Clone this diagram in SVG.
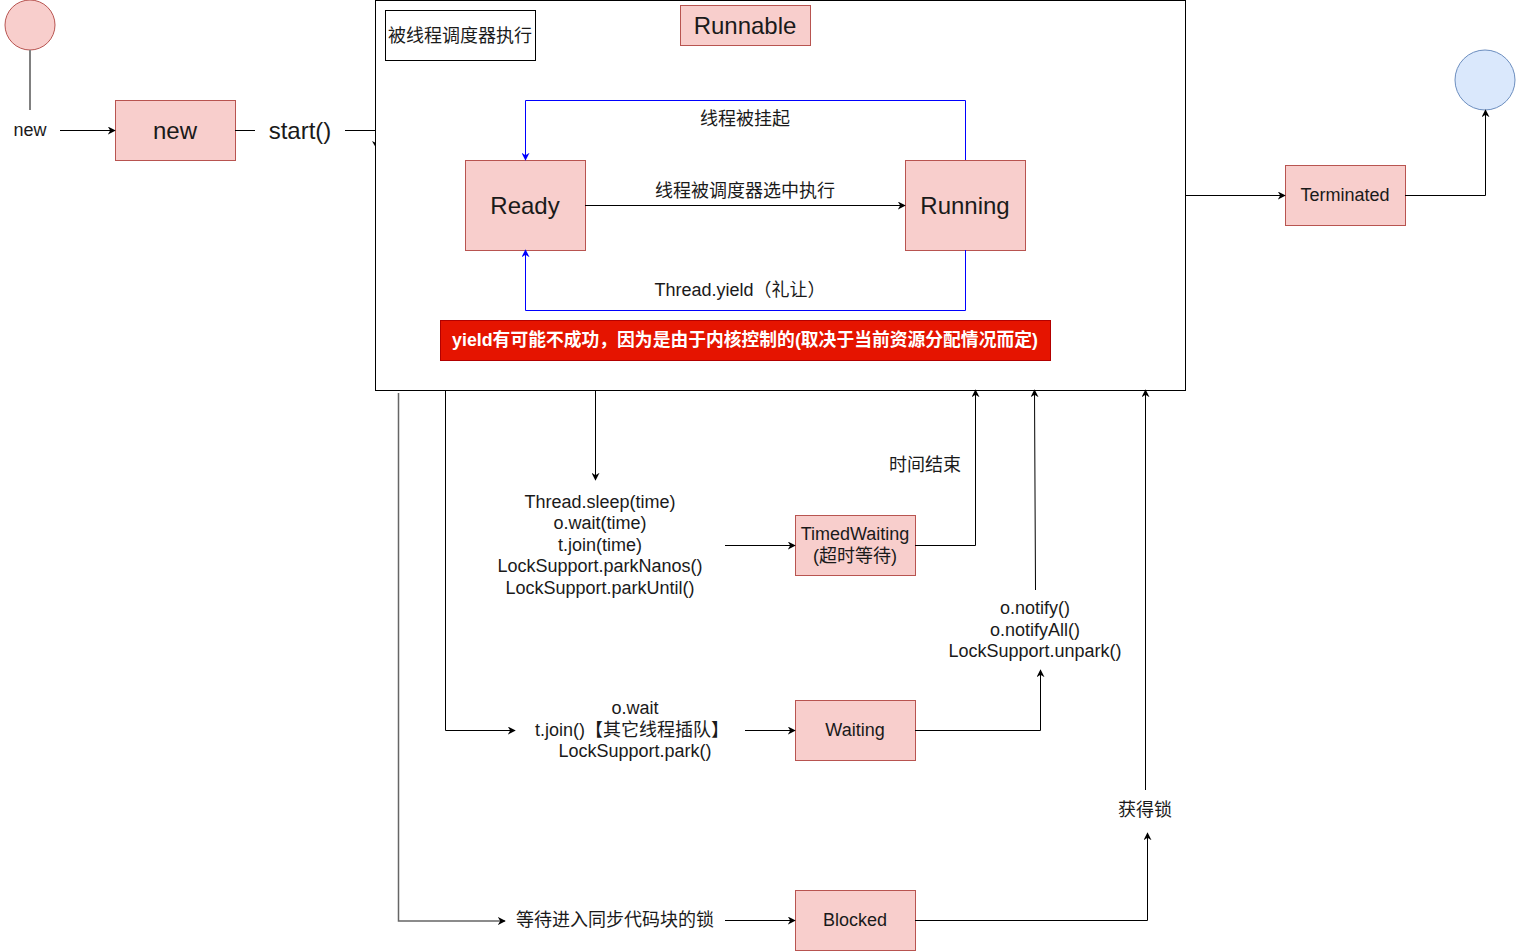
<svg xmlns="http://www.w3.org/2000/svg" width="1516" height="951" viewBox="0 0 1516 951">
<defs>
<marker id="a" viewBox="0 0 10 10" refX="9" refY="5" markerWidth="8" markerHeight="8" orient="auto" markerUnits="userSpaceOnUse"><path d="M0,0 L10,5 L0,10 L3,5 Z" fill="#000"/></marker>
<marker id="ab" viewBox="0 0 10 10" refX="9" refY="5" markerWidth="8" markerHeight="8" orient="auto" markerUnits="userSpaceOnUse"><path d="M0,0 L10,5 L0,10 L3,5 Z" fill="#0000ff"/></marker>
</defs>
<style>
text{font-family:"Liberation Sans","Noto Sans CJK SC",sans-serif;fill:#1a1a1a;text-anchor:middle;dominant-baseline:central;font-size:18px}
.st{fill:#f8cecc;stroke:#b85450;stroke-width:1}
.c{fill:none;stroke:#000;stroke-width:1}
.g{fill:none;stroke:#808080;stroke-width:2}
.b{fill:none;stroke:#0000ff;stroke-width:1}
.big{font-size:24px}
</style>
<rect width="1516" height="951" fill="#fff"/>
<g id="runnable-container">
<rect x="375.5" y="0.5" width="810" height="390" fill="#fff" stroke="#000"/>
</g>
<g id="start">
<circle cx="30" cy="25" r="25" class="st"/>
</g>
<g id="new">
<rect x="115.5" y="100.5" width="120" height="60" class="st"/>
<text x="175" y="130" class="big">new</text>
</g>
<g id="scheduler-note">
<rect x="385.5" y="10.5" width="150" height="50" fill="#fff" stroke="#000"/>
<text x="460" y="36">被线程调度器执行</text>
</g>
<g id="runnable-label">
<rect x="680.5" y="5.5" width="130" height="40" class="st"/>
<text x="745" y="25" class="big">Runnable</text>
</g>
<g id="ready">
<rect x="465.5" y="160.5" width="120" height="90" class="st"/>
<text x="525" y="205" class="big">Ready</text>
</g>
<g id="running">
<rect x="905.5" y="160.5" width="120" height="90" class="st"/>
<text x="965" y="205" class="big">Running</text>
</g>
<g id="yield-note">
<rect x="440.5" y="320.5" width="610" height="40" fill="#e51400" stroke="#b20000"/>
<text x="745" y="340" style="font-weight:bold;fill:#fff;font-size:17.8px">yield有可能不成功，因为是由于内核控制的(取决于当前资源分配情况而定)</text>
</g>
<g id="terminated">
<rect x="1285.5" y="165.5" width="120" height="60" class="st"/>
<text x="1345" y="195">Terminated</text>
</g>
<g id="end">
<circle cx="1485" cy="80" r="30" fill="#dae8fc" stroke="#6c8ebf"/>
</g>
<g id="timed-waiting">
<rect x="795.5" y="515.5" width="120" height="60" class="st"/>
<text x="855" y="534">TimedWaiting</text>
<text x="855" y="556">(超时等待)</text>
</g>
<g id="waiting">
<rect x="795.5" y="700.5" width="120" height="60" class="st"/>
<text x="855" y="730">Waiting</text>
</g>
<g id="blocked">
<rect x="795.5" y="890.5" width="120" height="60" class="st"/>
<text x="855" y="920">Blocked</text>
</g>
<g id="connectors">
<line x1="30" y1="50" x2="30" y2="110" class="g"/>
<text x="30" y="130">new</text>
<line x1="60" y1="130.5" x2="115" y2="130.5" class="c" marker-end="url(#a)"/>
<line x1="235" y1="130.5" x2="255" y2="130.5" class="c"/>
<text x="300" y="130" class="big">start()</text>
<line x1="345" y1="130.5" x2="375" y2="130.5" class="c"/>
<path d="M372,141 L376,143 L376,148 Z" fill="#000"/>
<path d="M965.5,160 V100.5 H525.5 V160" class="b" marker-end="url(#ab)"/>
<text x="745" y="119">线程被挂起</text>
<line x1="585" y1="205.5" x2="905" y2="205.5" class="c" marker-end="url(#a)"/>
<text x="745" y="191">线程被调度器选中执行</text>
<path d="M965.5,250 V310.5 H525.5 V250" class="b" marker-end="url(#ab)"/>
<text x="740" y="290">Thread.yield（礼让）</text>
<line x1="1185" y1="195.5" x2="1285" y2="195.5" class="c" marker-end="url(#a)"/>
<path d="M1405,195.5 H1485.5 V110" class="c" marker-end="url(#a)"/>
<line x1="595.5" y1="390" x2="595.5" y2="480" class="c" marker-end="url(#a)"/>
<text x="600" y="502">Thread.sleep(time)</text>
<text x="600" y="523">o.wait(time)</text>
<text x="600" y="545">t.join(time)</text>
<text x="600" y="566">LockSupport.parkNanos()</text>
<text x="600" y="588">LockSupport.parkUntil()</text>
<line x1="725" y1="545.5" x2="795" y2="545.5" class="c" marker-end="url(#a)"/>
<path d="M915,545.5 H975.5 V390" class="c" marker-end="url(#a)"/>
<text x="925" y="465">时间结束</text>
<path d="M445.5,390 V730.5 H515" class="c" marker-end="url(#a)"/>
<text x="635" y="708">o.wait</text>
<text x="632" y="730">t.join()【其它线程插队】</text>
<text x="635" y="751">LockSupport.park()</text>
<line x1="745" y1="730.5" x2="795" y2="730.5" class="c" marker-end="url(#a)"/>
<path d="M915,730.5 H1040.5 V670" class="c" marker-end="url(#a)"/>
<text x="1035" y="608">o.notify()</text>
<text x="1035" y="630">o.notifyAll()</text>
<text x="1035" y="651">LockSupport.unpark()</text>
<line x1="1035.5" y1="590" x2="1034.5" y2="390" class="c" marker-end="url(#a)"/>
<path d="M398.5,393 V921 H505" fill="none" stroke="#666" stroke-width="1.5" marker-end="url(#a)"/>
<text x="615" y="920">等待进入同步代码块的锁</text>
<line x1="725" y1="920.5" x2="795" y2="920.5" class="c" marker-end="url(#a)"/>
<path d="M915,920.5 H1147.5 V833" class="c" marker-end="url(#a)"/>
<text x="1145" y="810">获得锁</text>
<line x1="1145.5" y1="790" x2="1145.5" y2="390" class="c" marker-end="url(#a)"/>
</g>
</svg>
